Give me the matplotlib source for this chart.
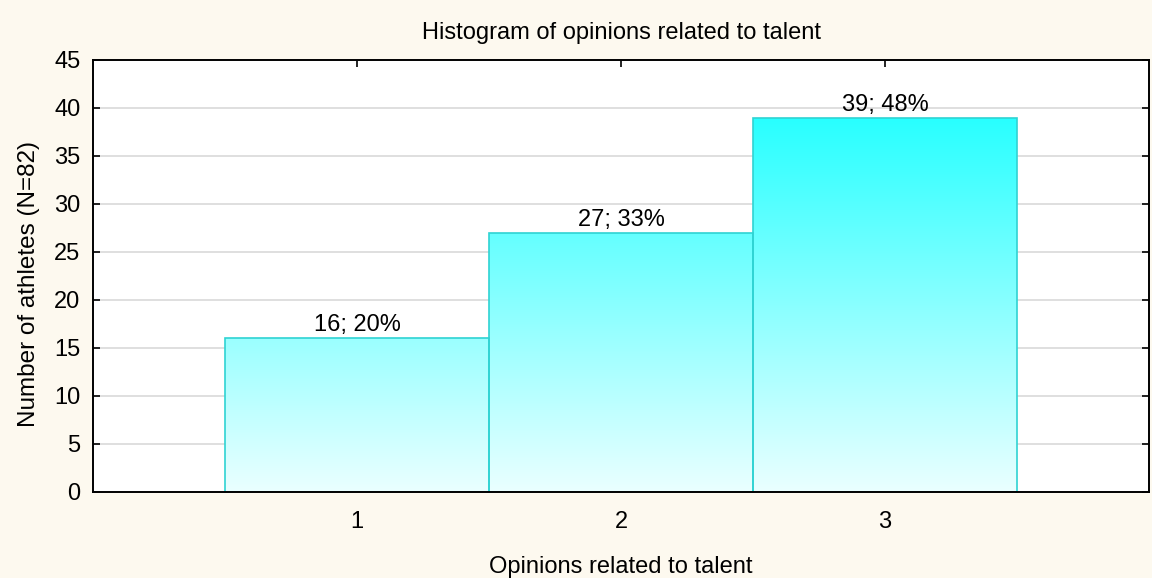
import numpy as np
import matplotlib
matplotlib.use("Agg")
import matplotlib.pyplot as plt
from matplotlib.colors import LinearSegmentedColormap
from matplotlib.patches import Rectangle

categories = [1, 2, 3]
counts = [16, 27, 39]
percents = [20, 33, 48]
yticks = list(range(0, 50, 5))

plt.rcParams['font.family'] = ['Liberation Sans', 'DejaVu Sans']
FS = 17

fig = plt.figure(figsize=(11.52, 5.78), dpi=100)
fig.patch.set_facecolor('#FDF9EF')
ax = fig.add_axes([93/1152, 1-492/578, (1149-93)/1152, (492-60)/578])
ax.set_facecolor('white')

ax.set_xlim(0, 4)
ax.set_ylim(0, 45)
ax.set_yticks(yticks)
ax.set_xticks(categories)
ax.yaxis.grid(True, color='#D9D9D9', linewidth=1.2, zorder=0)
ax.set_axisbelow(True)

cmap = LinearSegmentedColormap.from_list('cy', ['#EAFFFF', '#28FFFF'])
grad = np.linspace(0, 1, 256).reshape(-1, 1)
ymax_grad = max(counts)
for c, v, p in zip(categories, counts, percents):
    rect = Rectangle((c - 0.5, 0), 1.0, v, facecolor='none', edgecolor='#2FD3D3', linewidth=1.2, zorder=3)
    ax.add_patch(rect)
    im = ax.imshow(grad, extent=(c - 0.5, c + 0.5, 0, ymax_grad), origin='lower', cmap=cmap,
                   aspect='auto', zorder=2, interpolation='bilinear')
    im.set_clip_path(rect)
    ax.text(c, v + 0.2, f"{v}; {p}%", ha='center', va='bottom', fontsize=FS, zorder=4)

ax.set_xlim(0, 4)
ax.set_ylim(0, 45)

for s in ax.spines.values():
    s.set_linewidth(1.4)
    s.set_color('black')
    s.set_zorder(5)
ax.tick_params(direction='in', top=True, right=True, length=5, width=1.2, labelsize=FS)
ax.tick_params(axis='x', pad=14)
ax.tick_params(axis='y', pad=9)
ax.set_title('Histogram of opinions related to talent', fontsize=FS, pad=15)
ax.set_xlabel('Opinions related to talent', fontsize=FS, labelpad=16)
ax.set_ylabel('Number of athletes (N=82)', fontsize=17.5)
ax.yaxis.set_label_coords(-0.050, 0.481)

fig.savefig('out.png', dpi=100, facecolor=fig.get_facecolor())
